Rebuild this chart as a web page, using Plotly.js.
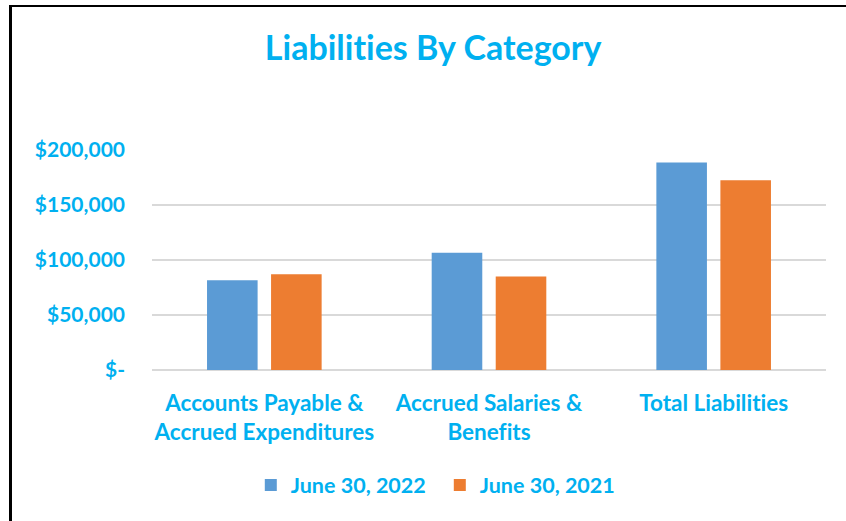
<!DOCTYPE html>
<html>
<head>
<meta charset="utf-8">
<script src="https://cdn.plot.ly/plotly-3.0.1.min.js"></script>
<style>
  html, body { margin: 0; padding: 0; background: #ffffff; }
  #wrap { position: relative; width: 846px; height: 521px; overflow: hidden; }
  #chart { position: absolute; left: 0; top: 0; width: 846px; height: 521px; }
  #chart svg text { font-variant-ligatures: none; font-feature-settings: "liga" 0; }
  #frame { position: absolute; left: 9px; top: 5px; width: 900px; height: 600px;
           border-left: 3px solid #000; border-top: 2px solid #000; pointer-events: none; }
</style>
</head>
<body>
<div id="wrap">
  <div id="chart"></div>
  <div id="frame"></div>
</div>
<script>
const categories = ["Accounts Payable &<br>Accrued Expenditures", "Accrued Salaries &<br>Benefits", "Total Liabilities"];
const seriesNames = ["June 30, 2022", "June 30, 2021"];
const values2022 = [81500, 106500, 188700];
const values2021 = [87000, 85100, 172400];
const yTickVals = [0, 50000, 100000, 150000, 200000];
const yTickText = ["$-", "$50,000", "$100,000", "$150,000", "$200,000"];

const cyan = "#00B0F0";
const font = "Lato, 'Open Sans', sans-serif";

const traces = [
  { type: "bar", name: seriesNames[0], x: categories, y: values2022,
    marker: { color: "#5B9BD5" }, hoverinfo: "skip" },
  { type: "bar", name: seriesNames[1], x: categories, y: values2021,
    marker: { color: "#ED7D31" }, hoverinfo: "skip" }
];

const layout = {
  width: 846, height: 521,
  margin: { l: 152, r: 20, t: 150, b: 151 },
  paper_bgcolor: "#ffffff", plot_bgcolor: "#ffffff",
  barmode: "group", bargap: 0.43, bargroupgap: 0.21,
  title: { text: "<b>Liabilities By Category</b>", font: { family: font, size: 34, color: cyan },
           x: 0.512, xref: "container", xanchor: "center", y: 0.908, yref: "container", yanchor: "middle" },
  xaxis: { type: "category", showgrid: false, zeroline: false, showline: false, ticks: "",
           tickfont: { family: font, size: 22.5, color: cyan, weight: "bold" }, ticklabelstandoff: 17, fixedrange: true },
  yaxis: { range: [0, 200000], tickvals: yTickVals, ticktext: yTickText, showgrid: true,
           gridcolor: "#D9D9D9", gridwidth: 2, zeroline: true, zerolinecolor: "#D9D9D9", zerolinewidth: 2,
           showline: false, ticks: "", ticklabelstandoff: 26,
           tickfont: { family: font, size: 21, color: cyan, weight: "bold" }, fixedrange: true },
  showlegend: true,
  legend: { orientation: "h", x: 0.427, xanchor: "center", y: -0.523, yanchor: "middle",
            entrywidth: 144, entrywidthmode: "pixels",
            font: { family: font, size: 21.5, color: cyan, weight: "bold" }, itemclick: false, itemdoubleclick: false }
};

Plotly.newPlot("chart", traces, layout, { displayModeBar: false, staticPlot: true });
</script>
</body>
</html>
